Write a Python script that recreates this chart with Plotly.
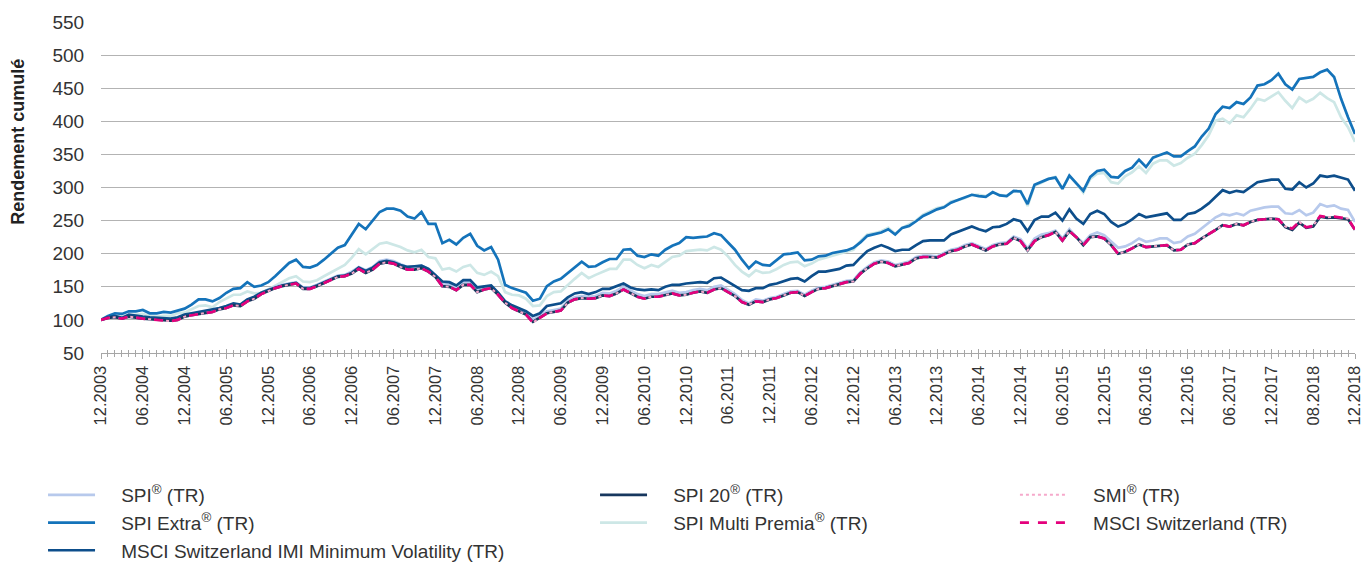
import plotly.graph_objects as go

tick_labels = ["12.2003","06.2004","12.2004","06.2005","12.2005","06.2006","12.2006","06.2007",
               "12.2007","06.2008","12.2008","06.2009","12.2009","06.2010","12.2010","06.2011",
               "12.2011","06.2012","12.2012","06.2013","12.2013","06.2014","12.2014","06.2015",
               "12.2015","06.2016","12.2016","06.2017","12.2017","08.2018","12.2018"]

spi = [100,104,105,103,107,105,104,103,102,102,
       100,102,107,109,111,113,114,118,120,124,
       123,130,134,141,146,150,153,155,157,149,
       149,153,158,163,167,168,173,180,175,180,
       189,191,189,184,180,180,182,177,168,155,
       154,149,157,157,146,150,151,141,129,121,
       116,111,100,106,113,115,117,129,134,136,
       135,136,141,140,144,150,145,139,136,139,
       139,141,144,141,142,145,147,145,150,152,
       146,139,130,125,131,129,133,135,139,143,
       144,138,144,149,150,153,155,159,160,172,
       180,187,190,188,183,185,188,195,197,197,
       196,201,206,208,213,216,211,207,213,216,
       217,226,222,208,223,229,231,235,223,237,
       225,216,228,232,228,219,209,211,216,223,
       218,220,223,223,216,218,226,230,238,246,
       255,260,258,261,258,265,268,270,271,271,
       261,260,266,258,262,275,271,273,268,266,
       248]

spi20 = [100,103,104,102,105,103,102,101,100,100,
         99,100,105,107,109,111,112,116,118,122,
         121,128,132,139,144,148,151,153,155,147,
         147,151,156,161,165,166,170,177,171,176,
         185,187,185,180,176,176,178,173,165,151,
         150,145,153,153,142,146,148,138,126,118,
         113,108,97,103,110,112,114,126,131,133,
         132,133,137,136,140,146,141,135,132,135,
         135,137,140,137,138,141,143,141,146,148,
         142,136,127,123,128,127,131,133,137,141,
         142,136,142,147,148,151,153,157,158,170,
         178,185,188,186,181,183,186,193,195,195,
         194,199,204,206,211,214,209,205,211,214,
         215,224,219,205,219,225,228,233,220,234,
         225,213,225,226,223,213,200,203,208,214,
         210,211,213,213,205,206,214,216,223,229,
         236,243,241,245,243,248,251,252,253,252,
         240,236,247,239,241,256,254,255,254,252,
         236]

smi = [100,103,104,102,105,103,102,101,100,100,
       98,100,105,107,109,111,112,116,118,122,
       121,128,132,139,144,148,151,153,155,147,
       147,151,156,161,165,166,170,177,171,176,
       185,187,185,180,176,176,178,173,165,151,
       150,145,153,153,142,146,148,138,126,118,
       113,108,96,103,110,112,114,126,131,133,
       132,133,137,136,140,146,141,135,132,135,
       135,137,140,137,138,141,143,141,146,148,
       142,136,127,123,128,127,131,133,137,141,
       142,136,142,147,148,151,153,157,158,170,
       178,185,188,186,181,183,186,193,195,195,
       194,199,204,206,211,214,209,205,211,214,
       215,224,219,205,219,225,228,233,220,234,
       225,213,225,226,223,213,200,203,208,214,
       210,211,213,213,205,206,214,216,223,229,
       236,243,241,245,243,248,251,252,253,252,
       241,238,248,240,242,257,255,256,255,253,
       236]

spi_extra = [100,106,110,109,113,113,115,110,110,112,
             111,114,117,123,131,131,128,133,141,147,
             148,157,150,152,157,166,176,186,191,180,
             179,183,191,200,209,213,229,245,237,250,
             263,268,268,265,256,253,263,245,245,216,
             221,214,224,230,212,205,210,191,153,148,
             145,141,129,132,151,158,162,171,180,188,
             180,181,187,192,192,206,207,197,195,199,
             197,206,212,216,225,224,225,226,231,228,
             217,206,191,178,188,183,182,191,199,200,
             202,190,191,196,197,201,203,205,209,217,
             227,230,232,237,229,239,242,249,257,262,
             267,270,277,281,285,289,287,286,293,288,
             287,295,294,275,304,308,313,315,298,318,
             306,295,316,325,327,316,315,325,330,342,
             331,345,349,353,347,347,355,362,377,389,
             411,422,420,429,426,436,454,456,462,472,
             456,448,464,465,467,474,478,467,434,406,
             381]

multi_premia = [100,105,108,106,107,108,109,106,105,106,
                106,110,111,116,121,122,119,127,133,138,
                138,143,140,141,146,152,158,163,166,158,
                157,160,166,172,178,183,194,207,199,207,
                215,217,214,210,205,202,206,195,193,176,
                178,173,180,183,171,168,173,166,142,138,
                137,132,121,122,136,142,143,153,162,171,
                163,168,173,177,177,191,191,183,178,183,
                180,188,195,197,204,205,206,205,210,206,
                196,183,173,166,175,171,172,177,183,187,
                188,181,185,191,194,196,200,202,206,219,
                229,231,234,239,230,239,244,250,259,264,
                269,271,279,281,284,289,289,287,292,289,
                287,294,295,272,303,307,313,316,298,318,
                306,292,313,321,322,308,306,317,323,332,
                322,336,341,341,333,337,345,351,364,379,
                401,404,397,409,406,419,434,431,437,444,
                431,420,436,429,434,443,435,429,406,391,
                369]

msci = [100,103,104,102,105,103,102,101,100,100,
        98,100,105,107,109,111,112,116,118,122,
        121,128,132,139,144,148,151,153,155,147,
        147,151,156,161,165,166,170,177,171,176,
        185,187,185,180,176,176,178,173,165,151,
        150,145,153,153,142,146,148,138,126,118,
        113,108,96,103,110,112,114,126,131,133,
        132,133,137,136,140,146,141,135,132,135,
        135,137,140,137,138,141,143,141,146,148,
        142,136,127,123,128,127,131,133,137,141,
        142,136,142,147,148,151,153,157,158,170,
        178,185,188,186,181,183,186,193,195,195,
        194,199,204,206,211,214,209,205,211,214,
        215,224,219,205,219,225,228,233,220,234,
        225,213,225,226,223,213,200,203,208,214,
        210,211,213,213,205,206,214,216,223,229,
        236,243,241,245,243,248,251,252,253,252,
        241,238,248,240,242,257,255,256,255,253,
        236]

min_vol = [100,104,106,103,108,106,105,104,103,103,
           102,104,108,110,112,113,115,118,121,125,
           123,131,135,141,145,149,152,154,156,148,
           148,152,157,162,166,167,171,179,174,179,
           187,189,187,183,180,181,182,177,168,158,
           157,152,160,160,149,151,152,141,128,122,
           118,113,106,110,121,123,125,134,140,142,
           139,142,147,147,151,155,149,146,145,146,
           145,150,153,153,155,156,157,156,163,164,
           158,151,145,144,148,148,153,155,158,162,
           163,158,166,173,173,175,177,182,183,194,
           204,209,213,209,204,206,206,213,219,220,
           220,220,229,233,236,241,237,234,240,241,
           245,252,249,234,251,256,256,262,250,267,
           253,245,260,265,260,248,241,245,252,260,
           255,257,260,261,251,251,260,262,268,276,
           286,296,292,295,293,301,308,310,312,312,
           298,297,308,300,306,318,316,318,315,312,
           295]

FONT = "Liberation Sans, Arial, sans-serif"
TXT = "#333333"
PAD = "\u00a0" * 4

# (name, data, color, dash, width, legend, rank)
series = [
    ("SPI Multi Premia<sup>®</sup> (TR)", multi_premia, "#cde7e6", "solid", 2.7, "legend2", 2),
    ("SPI<sup>®</sup> (TR)", spi, "#b7c9ec", "solid", 2.7, "legend", 1),
    ("SPI Extra<sup>®</sup> (TR)", spi_extra, "#1473ba", "solid", 2.7, "legend", 2),
    ("MSCI Switzerland IMI Minimum Volatility (TR)", min_vol, "#0d4e8b", "solid", 2.7, "legend", 3),
    ("SPI 20<sup>®</sup> (TR)", spi20, "#17375e", "solid", 2.7, "legend2", 1),
    ("SMI<sup>®</sup> (TR)", smi, "#f6a9cb", "dot", 2.0, "legend3", 1),
    ("MSCI Switzerland (TR)", msci, "#e4007c", "dash", 2.7, "legend3", 2),
]

fig = go.Figure()
for name, data, color, dash, w, lg, rank in series:
    fig.add_trace(go.Scatter(
        x=list(range(len(data))), y=data, mode="lines", name=PAD + name,
        line=dict(color=color, width=w, dash=dash),
        legend=lg, legendrank=rank, legendgroup=name,
        hoverinfo="skip"))

tickvals = [i * 6 for i in range(len(tick_labels))]

leg_common = dict(orientation="v", xref="container", yref="container",
                  yanchor="top", y=0.153, xanchor="left",
                  font=dict(family=FONT, size=19, color=TXT),
                  bgcolor="rgba(0,0,0,0)", tracegroupgap=4.5, itemwidth=47,
                  traceorder="normal")

fig.update_layout(
    width=1366, height=562,
    margin=dict(l=101, r=11, t=22, b=209, autoexpand=False),
    paper_bgcolor="white", plot_bgcolor="white",
    font=dict(family=FONT, size=16, color=TXT),
    showlegend=True,
    legend=dict(x=0.0315, **leg_common),
    legend2=dict(x=0.4356, **leg_common),
    legend3=dict(x=0.743, **leg_common),
    xaxis=dict(range=[0, 180], tickmode="array", tickvals=tickvals, ticktext=tick_labels,
               tickangle=-90, ticks="outside", ticklen=5, tickcolor="#a6a6a6", tickwidth=1,
               showline=True, linecolor="#a6a6a6", linewidth=1.3, showgrid=False, zeroline=False,
               automargin=False,
               tickfont=dict(family=FONT, size=16.5, color=TXT),
               minor=dict(ticks="outside", ticklen=3, tickcolor="#a6a6a6", dtick=1, tick0=0,
                          showgrid=False)),
    xaxis2=dict(range=[0, 180], overlaying="x", anchor="y", side="bottom",
                tickmode="array", tickvals=tickvals, showticklabels=False,
                ticks="inside", ticklen=4, tickcolor="#a6a6a6", tickwidth=1,
                showline=False, showgrid=False, zeroline=False, automargin=False,
                minor=dict(ticks="inside", ticklen=3, tickcolor="#a6a6a6", dtick=1, tick0=0,
                           showgrid=False)),
    yaxis=dict(range=[50, 550], dtick=50, tick0=50, showgrid=True, gridcolor="#b3b3b3",
               gridwidth=1.3, zeroline=False, showline=False, automargin=False,
               ticks="", ticksuffix="\u00a0\u00a0\u00a0",
               tickfont=dict(family=FONT, size=19, color=TXT)),
    annotations=[dict(text="<b>Rendement cumulé</b>", textangle=-90, x=-0.0662, y=0.638,
                      xref="paper", yref="paper", xanchor="center", yanchor="middle",
                      showarrow=False, font=dict(family=FONT, size=18, color="#222222"))],
)
# invisible trace to activate the overlay axis used for the crossing tick marks
fig.add_trace(go.Scatter(x=[0, 180], y=[None, None], xaxis="x2", yaxis="y",
                         showlegend=False, hoverinfo="skip"))

fig.write_html("out.html", config={"displayModeBar": False},
               post_script="document.body.style.margin='0';document.body.style.overflow='hidden';")
